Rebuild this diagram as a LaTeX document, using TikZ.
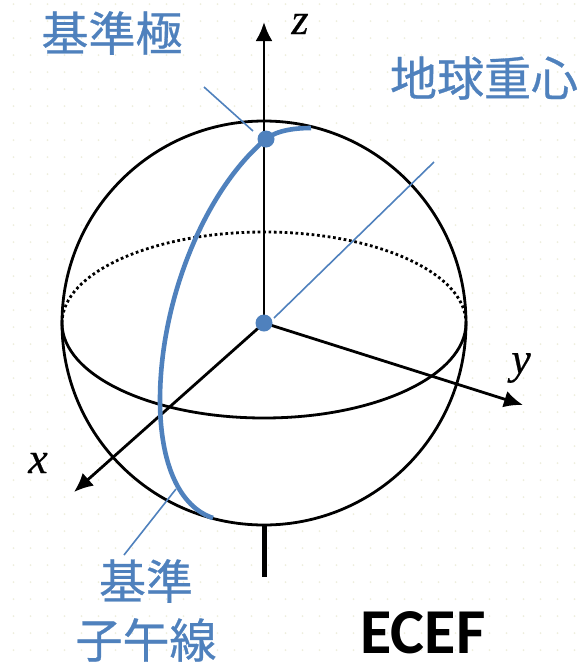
\documentclass[tikz,border=0pt]{standalone}
\usepackage{fontspec}
\setmainfont{Carlito}
\newfontfamily\serifit[Ligatures=TeX,FakeBold=0.4]{Liberation Serif}
\newfontfamily\cjk[FakeBold=0.6]{Noto Sans CJK JP}
\usetikzlibrary{arrows.meta}
\definecolor{bl}{HTML}{4F81BD}
\definecolor{dotc}{HTML}{EEEEDD}
\tikzset{
  x=1pt,y=-1pt,
  sph/.style={line width=2.8pt,black},
  ax/.style={line width=2.8pt,black,-{Latex[length=19pt,width=17pt]}},
  lead/.style={line width=1.6pt,bl},
  merid/.style={line width=4.6pt,bl},
  jp/.style={font=\cjk\fontsize{47}{50}\selectfont,text=bl,inner sep=0pt},
  var/.style={font=\serifit\itshape\fontsize{44}{46}\selectfont,inner sep=0pt},
  pt/.style={circle,fill=bl,inner sep=0pt,minimum size=17pt}
}
\begin{document}
\begin{tikzpicture}
\useasboundingbox (0,0) rectangle (587,662);
\fill[white] (0,0) rectangle (587,662);
\foreach \i in {0,...,34}{\foreach \j in {0,...,38}{
  \fill[dotc] ({13.5+17*\i},{4+17*\j}) circle (1pt);
}}
\coordinate (C) at (264,323);
\coordinate (N) at (266,139);
\coordinate (zTip) at (264,22);
\coordinate (yTip) at (523,405);
\coordinate (xTip) at (74,492);
\coordinate (zBot) at (264,525);
\coordinate (zEnd) at (264,577);
\fill[white] (C) circle (202);
\draw[line width=2.8pt,dash pattern=on 2.7pt off 2.7pt] (62,323) arc[start angle=180,end angle=0,x radius=202,y radius=-91];
\draw[sph] (C) circle (202);
\draw[sph] (62,323) arc[start angle=180,end angle=360,x radius=202,y radius=-95];
\draw[ax] (C) -- (zTip);
\draw[ax] (C) -- (yTip);
\draw[ax] (C) -- (xTip);
\draw[line width=5pt] (zBot) -- (zEnd);
\draw[merid] (311,128) .. controls (285,128) and (272,134) .. (N)
  .. controls (205,190) and (160,300) .. (160,400)
  .. controls (160,465) and (180,507) .. (213,518);
\draw[lead] (204,87) -- (253,131);
\draw[lead] (274,318) -- (434,162);
\draw[lead] (176,489) -- (124,555);
\node[pt] (north) at (N) {};
\node[pt] (center) at (C) {};
\node[jp] (l1) at (112,33) {基準極};
\node[jp] (l2) at (484,78) {地球重心};
\node[jp] (l3) at (146,581) {基準};
\node[jp] (l4) at (146,640) {子午線};
\node[inner sep=0pt,font=\bfseries\fontsize{64}{66}\selectfont] (e) at (423,633) {ECEF};
\node[var] (z) at (300,24) {z};
\node[var] (y) at (521,368) {y};
\node[var] (x) at (38,463) {x};
\end{tikzpicture}
\end{document}
